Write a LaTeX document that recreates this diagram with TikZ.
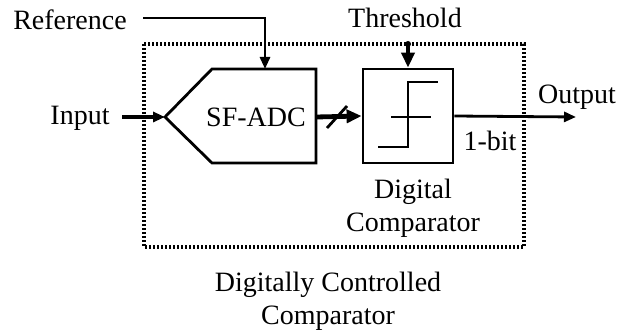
\documentclass[tikz,border=0pt]{standalone}
\usepackage{fontspec}
\setmainfont{Liberation Serif}
\usetikzlibrary{arrows.meta}
\begin{document}
\begin{tikzpicture}[x=0.5pt,y=-0.5pt,
  font=\fontsize{14}{16.5}\selectfont,
  lbl/.style={inner sep=0pt,align=center},
  wire/.style={line width=1.4pt},
  arr/.style={line width=1.4pt,-{Triangle[length=6pt,width=5pt]}},
  arrthick/.style={line width=1.9pt,-{Triangle[length=6pt,width=5pt]}},
  bus/.style={line width=2.4pt,-{Triangle[length=7.5pt,width=6.5pt]}},
  frame/.style={line width=1.7pt,dash pattern=on 1pt off 1pt}]
\useasboundingbox (0,0) rectangle (630,336);
% frame
\draw[frame] (144,44) rectangle (524,247);
% ADC
\coordinate (adcin) at (165,117);
\coordinate (adcref) at (265,69);
\coordinate (adcout) at (316,117);
\draw[wire] (adcin) -- (212,69) -- (316,69) -- (316,163) -- (212,163) -- cycle;
\node[lbl] (adclbl) at (256,117) {SF-ADC};
% comparator
\node[draw,line width=1.4pt,minimum width=45pt,minimum height=47pt,inner sep=0pt] (cmp) at (408,116) {};
\draw[wire] (378,147) -- (408,147) -- (408,82) -- (438,82);
\draw[wire] (391,117) -- (431,117);
% texts
\node[lbl] (ref) at (70,20) {Reference};
\node[lbl] (inp) at (80,118) {Input};
\node[lbl] (thrtxt) at (405,18) {Threshold};
\node[lbl] (out) at (577,97) {Output};
\node[lbl] (bit) at (490,141) {1-bit};
\node[lbl] (cmplbl) at (413,208) {Digital\\Comparator};
\node[lbl] (title) at (328,301) {Digitally Controlled\\Comparator};
% connectors
\coordinate (refstart) at (143,18);
\draw[arr] (refstart) -| (adcref);
\coordinate (inpstart) at (122,117);
\draw[arrthick] (inpstart) -- (adcin);
\draw[bus] (adcout) -- (cmp.west);
\draw[wire] (327,128) -- (347,106);
\coordinate (thr) at (408,44);
\fill (thr) circle (3);
\draw[bus] (thr) -- (cmp.north);
\coordinate (outend) at (576,117);
\draw[arr] (cmp.east) -- (outend);
\end{tikzpicture}
\end{document}
